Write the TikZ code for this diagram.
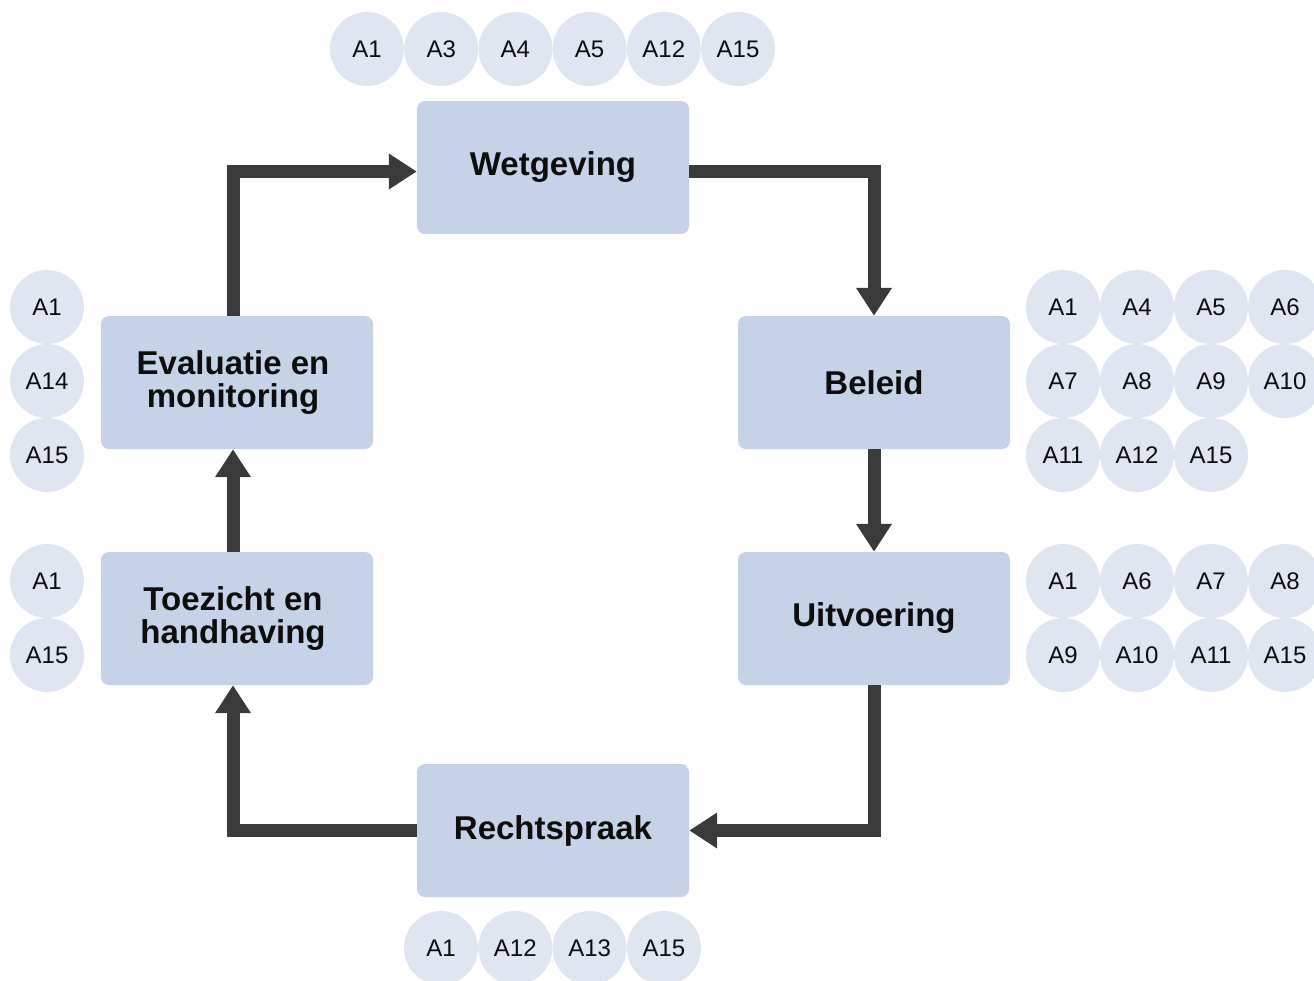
\documentclass[tikz,border=0pt]{standalone}
\usepackage{fontspec}
\setmainfont{Liberation Sans}
\usetikzlibrary{arrows.meta,positioning}

\definecolor{boxblue}{HTML}{C5D2E8}
\definecolor{tagblue}{HTML}{DFE5F1}
\definecolor{arrowgrey}{HTML}{3A3A3A}

\tikzset{
  stage/.style={rectangle, rounded corners=8pt, fill=boxblue, minimum width=272pt,
    minimum height=133pt, inner sep=0pt, align=center, text=black!95,
    font=\fontsize{33}{33}\selectfont\bfseries},
  tag/.style={circle, fill=tagblue, minimum size=74pt, inner sep=0pt,
    text=black!95, font=\fontsize{24}{24}\selectfont},
  flow/.style={draw=arrowgrey, line width=13pt, line join=miter,
    -{Triangle[width=34pt,length=28pt]}, shorten >=0pt}
}

\begin{document}
\begin{tikzpicture}[x=1pt, y=-1pt]
  \useasboundingbox (0,0) rectangle (1314,980);

  % Define nodes
  \node[stage] (wet) at (553,167.5) {Wetgeving};
  \node[stage] (bel) at (874,382.5) {Beleid};
  \node[stage] (uit) at (874,618.5) {Uitvoering};
  \node[stage] (rec) at (553,830.5) {Rechtspraak};
  \node[stage] (toe) at (237,618.5) {Toezicht en\hspace*{8pt}\\handhaving\hspace*{8pt}};
  \node[stage] (eva) at (237,382.5) {Evaluatie en\hspace*{8pt}\\monitoring\hspace*{8pt}};

  % Tags
  \foreach \lbl [count=\i from 0] in {A1,A3,A4,A5,A12,A15}
    \node[tag] (wet-\i) at (367+74.2*\i,49) {\lbl};
  \foreach \lbl [count=\i from 0] in {A1,A4,A5,A6,A7,A8,A9,A10,A11,A12,A15}
    \node[tag] (bel-\i) at ({1063+74*mod(\i,4)},{307+74*div(\i,4)}) {\lbl};
  \foreach \lbl [count=\i from 0] in {A1,A6,A7,A8,A9,A10,A11,A15}
    \node[tag] (uit-\i) at ({1063+74*mod(\i,4)},{581+74*div(\i,4)}) {\lbl};
  \foreach \lbl [count=\i from 0] in {A1,A12,A13,A15}
    \node[tag] (rec-\i) at (441+74.3*\i,948) {\lbl};
  \foreach \lbl [count=\i from 0] in {A1,A15}
    \node[tag] (toe-\i) at (47,581+74*\i) {\lbl};
  \foreach \lbl [count=\i from 0] in {A1,A14,A15}
    \node[tag] (eva-\i) at (47,307+74*\i) {\lbl};

  % Cycle
  \draw[flow] ([yshift=-4pt]wet.east) -| (bel.north);
  \draw[flow] (bel.south) -- (uit.north);
  \draw[flow] (uit.south) |- (rec.east);
  \draw[flow] (rec.west) -| ([xshift=-4pt]toe.south);
  \draw[flow] ([xshift=-4pt]toe.north) -- ([xshift=-4pt]eva.south);
  \draw[flow] ([xshift=-4pt]eva.north) |- ([yshift=-4pt]wet.west);

\end{tikzpicture}
\end{document}
